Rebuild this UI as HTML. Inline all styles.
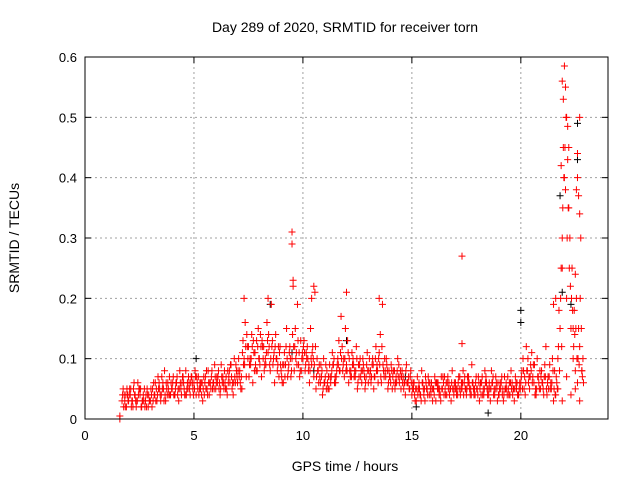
<!DOCTYPE html>
<html><head><meta charset="utf-8"><style>
body{margin:0;background:#fff;}
svg{display:block;font-family:"Liberation Sans",sans-serif;}
</style></head><body>
<svg id="chart" width="640" height="480" viewBox="0 0 640 480">
<g id="grid"></g>
<g id="marks"></g>
<g id="axes"></g>
<text x="345" y="32" font-size="14" text-anchor="middle">Day 289 of 2020, SRMTID for receiver torn</text>
<text x="345" y="471" font-size="14" text-anchor="middle">GPS time / hours</text>
<text transform="translate(19,238) rotate(-90)" font-size="14" text-anchor="middle">SRMTID / TECUs</text>
</svg>
<script>
const xTicks=[0,5,10,15,20];
const yTicks=[0,0.1,0.2,0.3,0.4,0.5,0.6];
const yTickLabels=["0","0.1","0.2","0.3","0.4","0.5","0.6"];
const rowAStart=1.7, rowBStart=1.75, rowCStart=1.725, rowDStart=1.775, rowStep=0.1;
const rowA=[.03,.04,.02,
.03,.05,.02,.04,.03,.05,.02,.03,.04,.02,
.03,.05,.04,.03,.06,.04,.05,.03,.06,.04,
.05,.04,.06,.03,.05,.07,.04,.06,.05,.07,
.06,.04,.07,.05,.03,.06,.05,.04,.07,.06,
.05,.07,.04,.06,.08,.05,.07,.09,.04,.06,
.06,.08,.05,.10,.07,.12,.09,.06,.11,.08,
.10,.07,.12,.09,.11,.08,.13,.06,.10,.07,
.08,.06,.09,.07,.12,.10,.08,.11,.09,.13,
.10,.08,.12,.06,.09,.07,.05,.08,.06,.04,
.06,.08,.05,.07,.09,.06,.10,.08,.12,.07,
.09,.06,.08,.10,.07,.05,.09,.06,.08,.07,
.06,.08,.10,.07,.09,.11,.06,.08,.07,.05,
.07,.05,.08,.06,.09,.05,.07,.04,.06,.05,
.04,.06,.03,.05,.04,.06,.03,.05,.04,.06,
.05,.03,.06,.04,.05,.07,.04,.06,.03,.05,
.06,.04,.07,.05,.06,.04,.07,.05,.06,.04,
.05,.03,.06,.04,.07,.05,.03,.06,.04,.05,
.04,.06,.03,.05,.07,.04,.06,.03,.05,.04,
.06,.10,.04,.08,.05,.11,.06,.04,.07,.05,
.06,.09,.04,.07,.05,.03,.04,.10,.15,.30,
.40,.20,.35,.15,.10,.08,.06,.12,.08];
const rowB=[.05,.02,.04,
.05,.03,.06,.02,.04,.05,.03,.02,.05,.03,
.04,.06,.03,.07,.04,.05,.08,.05,.04,.06,
.07,.05,.04,.08,.06,.05,.04,.07,.06,.05,
.08,.06,.05,.04,.07,.05,.08,.06,.05,.09,
.07,.05,.09,.06,.05,.08,.06,.05,.10,.08,
.10,.05,.13,.16,.12,.09,.14,.11,.08,.15,
.14,.12,.09,.16,.12,.19,.10,.14,.09,.12,
.06,.11,.15,.09,.07,.22,.15,.19,.07,.10,
.13,.11,.08,.15,.12,.21,.10,.09,.07,.10,
.09,.05,.07,.11,.06,.08,.13,.17,.09,.15,
.13,.08,.11,.07,.12,.09,.07,.10,.05,.11,
.10,.07,.05,.12,.06,.14,.19,.10,.09,.08,
.09,.08,.06,.10,.07,.08,.06,.09,.07,.08,
.06,.03,.07,.05,.08,.04,.06,.07,.05,.03,
.07,.06,.04,.07,.06,.04,.07,.05,.08,.06,
.04,.07,.05,.08,.05,.07,.05,.09,.04,.07,
.07,.06,.04,.08,.05,.06,.08,.04,.07,.06,
.06,.04,.07,.05,.04,.08,.05,.07,.04,.06,
.08,.05,.12,.06,.09,.07,.04,.10,.05,.08,
.04,.12,.07,.05,.10,.08,.06,.18,.25,.45,
.55,.43,.30,.25,.18,.38,.15,.30,.10];
const rowC=[.04,.03,.05,
.04,.02,.05,.03,.06,.04,.03,.05,.02,.04,
.05,.03,.06,.04,.05,.07,.03,.06,.05,.04,
.06,.04,.07,.05,.04,.06,.08,.05,.04,.06,
.05,.07,.04,.06,.05,.07,.04,.06,.08,.05,
.06,.08,.05,.07,.06,.04,.08,.07,.06,.09,
.08,.06,.11,.09,.14,.07,.10,.13,.09,.12,
.09,.13,.08,.11,.14,.10,.09,.12,.08,.11,
.07,.09,.12,.08,.10,.14,.12,.09,.11,.08,
.12,.09,.10,.08,.11,.09,.07,.06,.09,.05,
.07,.06,.09,.08,.10,.07,.09,.11,.08,.10,
.08,.10,.07,.09,.08,.06,.10,.08,.07,.09,
.08,.06,.09,.10,.08,.09,.12,.07,.10,.06,
.06,.07,.05,.08,.06,.07,.05,.08,.06,.07,
.05,.04,.05,.06,.03,.05,.07,.04,.06,.05,
.04,.06,.05,.03,.07,.05,.06,.04,.06,.04,
.05,.06,.04,.06,.07,.05,.06,.04,.05,.06,
.04,.05,.07,.05,.06,.04,.05,.07,.05,.03,
.05,.07,.04,.06,.05,.06,.04,.05,.06,.05,
.07,.08,.06,.10,.07,.06,.09,.05,.06,.07,
.05,.07,.06,.09,.06,.05,.07,.12,.20,.35,
.45,.30,.25,.20,.12,.15,.10,.20,.07];
const rowD=[.02,.04,.03,
.04,.03,.04,.03,.05,.02,.04,.03,.04,.03,
.02,.04,.05,.05,.03,.06,.04,.04,.07,.05,
.04,.06,.05,.06,.07,.04,.05,.06,.07,.04,
.07,.05,.06,.06,.04,.08,.06,.05,.06,.07,
.06,.06,.07,.05,.07,.06,.09,.06,.07,.07,
.07,.07,.09,.12,.10,.10,.12,.08,.13,.10,
.12,.10,.10,.13,.09,.12,.11,.10,.12,.09,
.09,.07,.10,.11,.08,.12,.10,.13,.08,.11,
.11,.10,.09,.10,.10,.12,.08,.07,.08,.06,
.05,.07,.06,.09,.07,.09,.08,.10,.10,.08,
.11,.07,.09,.08,.10,.07,.08,.09,.06,.08,
.07,.09,.07,.08,.10,.07,.09,.08,.08,.07,
.08,.06,.07,.07,.08,.06,.06,.06,.05,.06,
.05,.05,.04,.04,.06,.05,.05,.06,.04,.05,
.06,.05,.05,.05,.04,.06,.05,.05,.05,.05,
.05,.05,.06,.04,.05,.06,.04,.06,.05,.05,
.06,.04,.05,.06,.04,.05,.06,.05,.06,.04,
.05,.05,.05,.04,.06,.05,.05,.06,.04,.05,
.05,.07,.08,.07,.08,.09,.05,.07,.08,.06,
.07,.05,.05,.06,.08,.04,.05,.08,.12,.40,
.50,.35,.22,.18,.14,.10,.09,.15,.06];
const redExtra=[[9.5,.31],[9.5,.29],[9.55,.23],[7.3,.2],[8.4,.2],[10.5,.22],[10.4,.2],[12.0,.21],[13.5,.2],[17.3,.27],[17.3,.125],[22.0,.585],[21.9,.56],[21.95,.53],[22.1,.5],[22.15,.485],[22.7,.5],[22.6,.44],[22.2,.45],[21.85,.42],[22.05,.38],[22.6,.4],[22.65,.37],[22.7,.34],[21.9,.25],[22.5,.24],[22.55,.2],[22.4,.15],[21.6,.2],[21.5,.19],[1.6,0],[1.6,0.005],[21.7,.05],[21.9,.03],[22.1,.07],[22.3,.04],[22.5,.05],[22.7,.03],[22.8,.08]];
const blackPts=[[5.1,.1],[8.5,.19],[9.5,.11],[15.2,.02],[18.5,.01],[20.0,.16],[20.0,.18],[21.8,.37],[22.6,.49],[22.6,.43],[21.9,.21],[22.3,.19],[12.0,.13],[14.7,.07],[10.5,.08]];

const L=85,R=608,T=57,B=419,X0=0,X1=24,Y0=0,Y1=0.6;
const xs=v=>L+(v-X0)/(X1-X0)*(R-L);
const ys=v=>B-(v-Y0)/(Y1-Y0)*(B-T);
const NS="http://www.w3.org/2000/svg";
function mk(tag,attrs,parent){const e=document.createElementNS(NS,tag);for(const k in attrs)e.setAttribute(k,attrs[k]);parent.appendChild(e);return e;}
const grid=document.getElementById('grid'),axes=document.getElementById('axes'),marks=document.getElementById('marks');
xTicks.forEach(t=>{
  const x=xs(t);
  if(t>X0){const g=mk('line',{x1:x,x2:x,y1:T,y2:B,stroke:'#a0a0a0','stroke-dasharray':'2,3','stroke-width':1},grid);
  
  }
  mk('line',{x1:x,x2:x,y1:B,y2:B-6,stroke:'#000'},axes);
  mk('line',{x1:x,x2:x,y1:T,y2:T+6,stroke:'#000'},axes);
  const tx=mk('text',{x:x,y:B+21,'font-size':13,'text-anchor':'middle'},axes);
  tx.textContent=t;
  
  
});
yTicks.forEach((t,i)=>{
  const y=ys(t);
  if(t>Y0&&t<Y1){const g=mk('line',{x1:L,x2:R,y1:y,y2:y,stroke:'#a0a0a0','stroke-dasharray':'2,3','stroke-width':1},grid);
  
  }
  mk('line',{x1:L,x2:L+6,y1:y,y2:y,stroke:'#000'},axes);
  mk('line',{x1:R,x2:R-6,y1:y,y2:y,stroke:'#000'},axes);
  const tx=mk('text',{x:L-8,y:y+5,'font-size':13,'text-anchor':'end'},axes);
  tx.textContent=yTickLabels[i];
  
  
});
mk('rect',{x:L,y:T,width:R-L,height:B-T,fill:'none',stroke:'#000'},axes);
function plus(t,v,color,name){
  const x=xs(t),y=ys(v);
  const p=mk('path',{d:`M${x-3.5},${y}h7M${x},${y-3.5}v7`,stroke:color,'stroke-width':1,fill:'none'},marks);
  
  
}
blackPts.forEach(p=>plus(p[0],p[1],'#000','black-point'));
rowA.forEach((v,i)=>plus(rowAStart+i*rowStep,v,'#ff0000','red-point'));
rowB.forEach((v,i)=>plus(rowBStart+i*rowStep,v,'#ff0000','red-point'));
rowC.forEach((v,i)=>plus(rowCStart+i*rowStep,v,'#ff0000','red-point'));
rowD.forEach((v,i)=>plus(rowDStart+i*rowStep,v,'#ff0000','red-point'));
redExtra.forEach(p=>plus(p[0],p[1],'#ff0000','red-point'));
</script>
</body></html>
